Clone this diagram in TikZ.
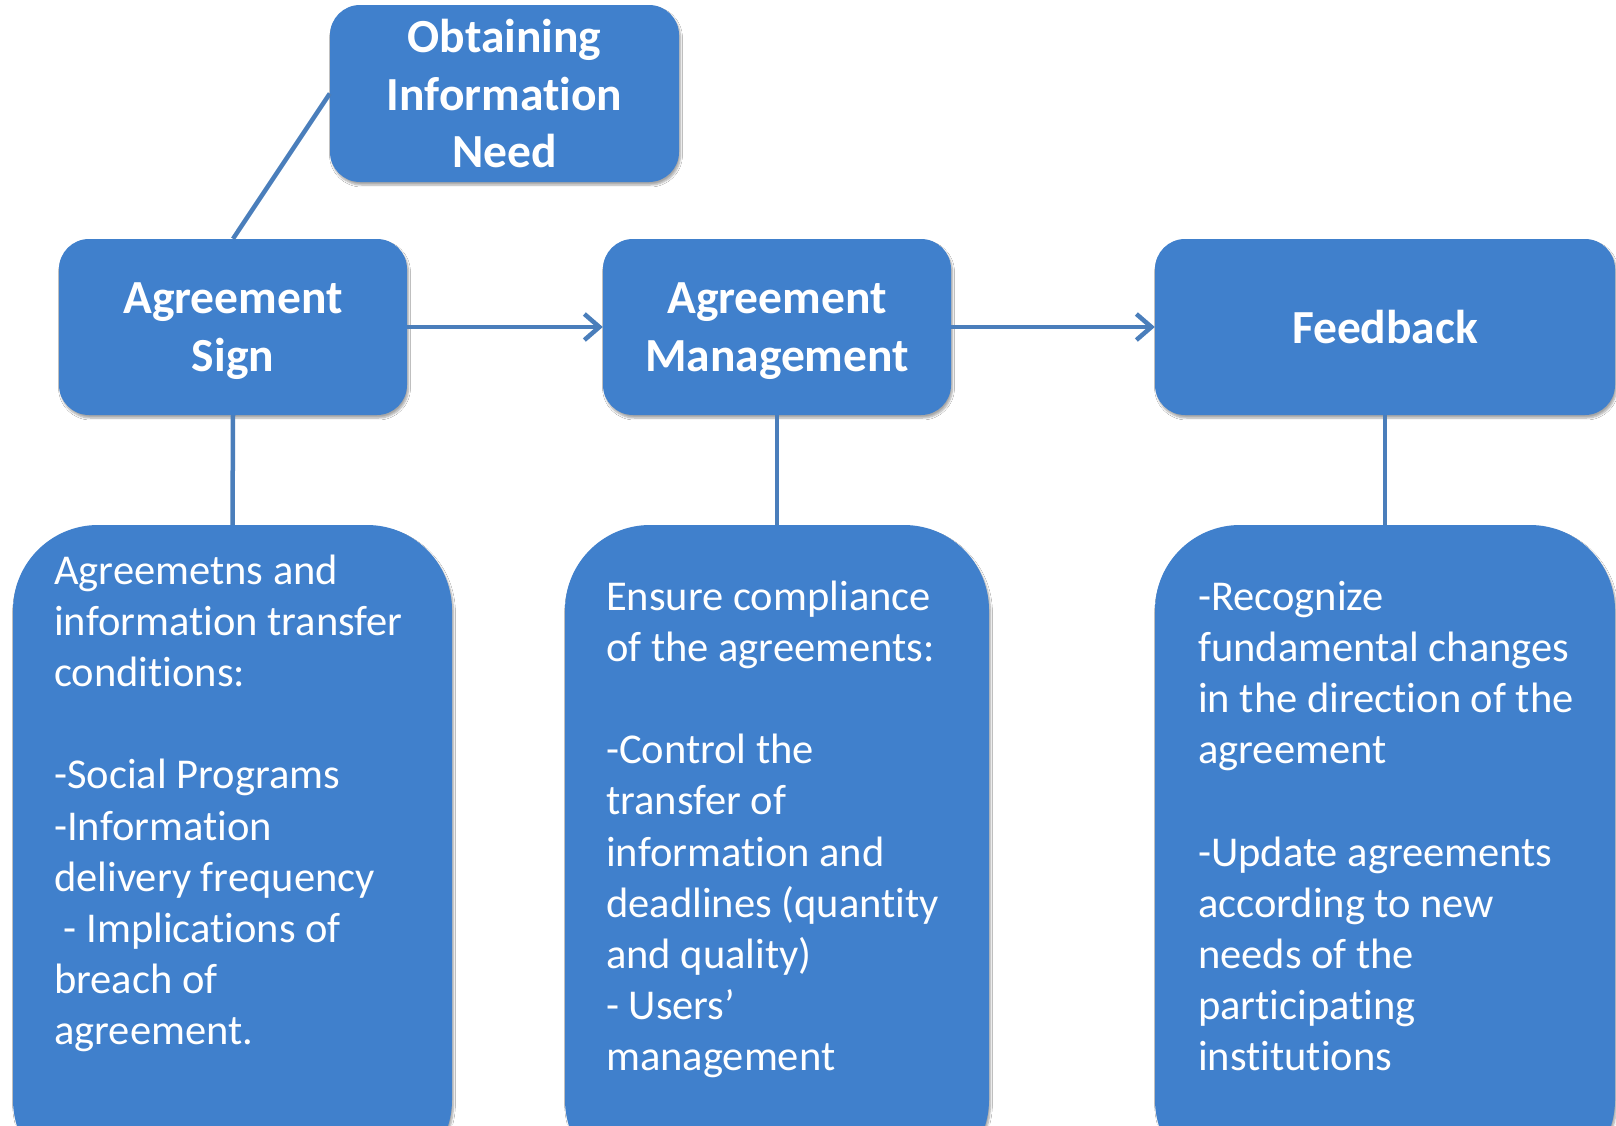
\documentclass[tikz,border=0pt]{standalone}
\usepackage{fontspec}
\setmainfont[Ligatures=NoCommon]{Carlito}
\usetikzlibrary{arrows.meta,shadows.blur}
\definecolor{boxblue}{RGB}{64,128,204}
\definecolor{lineblue}{RGB}{74,126,187}
\tikzset{
  box/.style={rectangle, rounded corners=30pt, fill=boxblue, draw=none, inner sep=0pt,
    blur shadow={shadow xshift=1.5pt, shadow yshift=-3pt, shadow blur steps=6, shadow opacity=35},
    text=white, align=center, text depth=0pt, font=\bfseries\fontsize{47.5}{57.5}\selectfont},
  bigbox/.style={rectangle, rounded corners=85pt, fill=boxblue, draw=none, inner sep=0pt,
    blur shadow={shadow xshift=1.5pt, shadow yshift=-3pt, shadow blur steps=6, shadow opacity=35}},
  bodytext/.style={text=white, align=left, anchor=north west, inner sep=0pt,
    font=\fontsize{42.5}{51.2}\selectfont},
  conn/.style={draw=lineblue, line width=4.5pt},
  arr/.style={conn, -{Straight Barb[length=15pt,width=26pt,line width=4.5pt]}}
}
\begin{document}
\begin{tikzpicture}[x=1pt,y=-1pt]
\useasboundingbox[fill=white] (0,0) rectangle (1616,1125);
% top boxes
\node[box, minimum width=349pt, minimum height=177pt] (obt) at (504.5,93.5) {Obtaining\\Information\\Need};
\node[box, minimum width=348pt, minimum height=176pt] (sign) at (233,327) {Agreement\\Sign};
\node[box, minimum width=348pt, minimum height=176pt] (mgmt) at (777,327) {Agreement\\Management};
\node[box, minimum width=460pt, minimum height=176pt] (feed) at (1385,327) {Feedback};
% bottom boxes
\node[bigbox, minimum width=439pt, minimum height=660pt] (b1) at (232.5,855) {};
\node[bigbox, minimum width=424pt, minimum height=660pt] (b2) at (777,855) {};
\node[bigbox, minimum width=460pt, minimum height=660pt] (b3) at (1385,855) {};
% connectors
\draw[conn] (obt.west) -- (sign.north);
\draw[arr] (sign.east) -- (mgmt.west);
\draw[arr] (mgmt.east) -- (feed.west);
\draw[conn] (sign.south) -- (b1.north);
\draw[conn] (mgmt.south) -- (b2.north);
\draw[conn] (feed.south) -- (b3.north);
% texts
\node[bodytext] (t1) at (54,548) {\strut Agreemetns and\\information transfer\\conditions:\\[51.2pt]-Social Programs\\-Information\\delivery frequency\\\ - Implications of\\breach of\\agreement.};
\node[bodytext] (t2) at (606,574) {\strut Ensure compliance\\of the agreements:\\[51.2pt]-Control the\\transfer of\\information and\\deadlines (quantity\\and quality)\\- Users’\\management};
\node[bodytext] (t3) at (1198,574) {\strut -Recognize\\fundamental changes\\in the direction of the\\agreement\\[51.2pt]-Update agreements\\according to new\\needs of the\\participating\\institutions};
\end{tikzpicture}
\end{document}
